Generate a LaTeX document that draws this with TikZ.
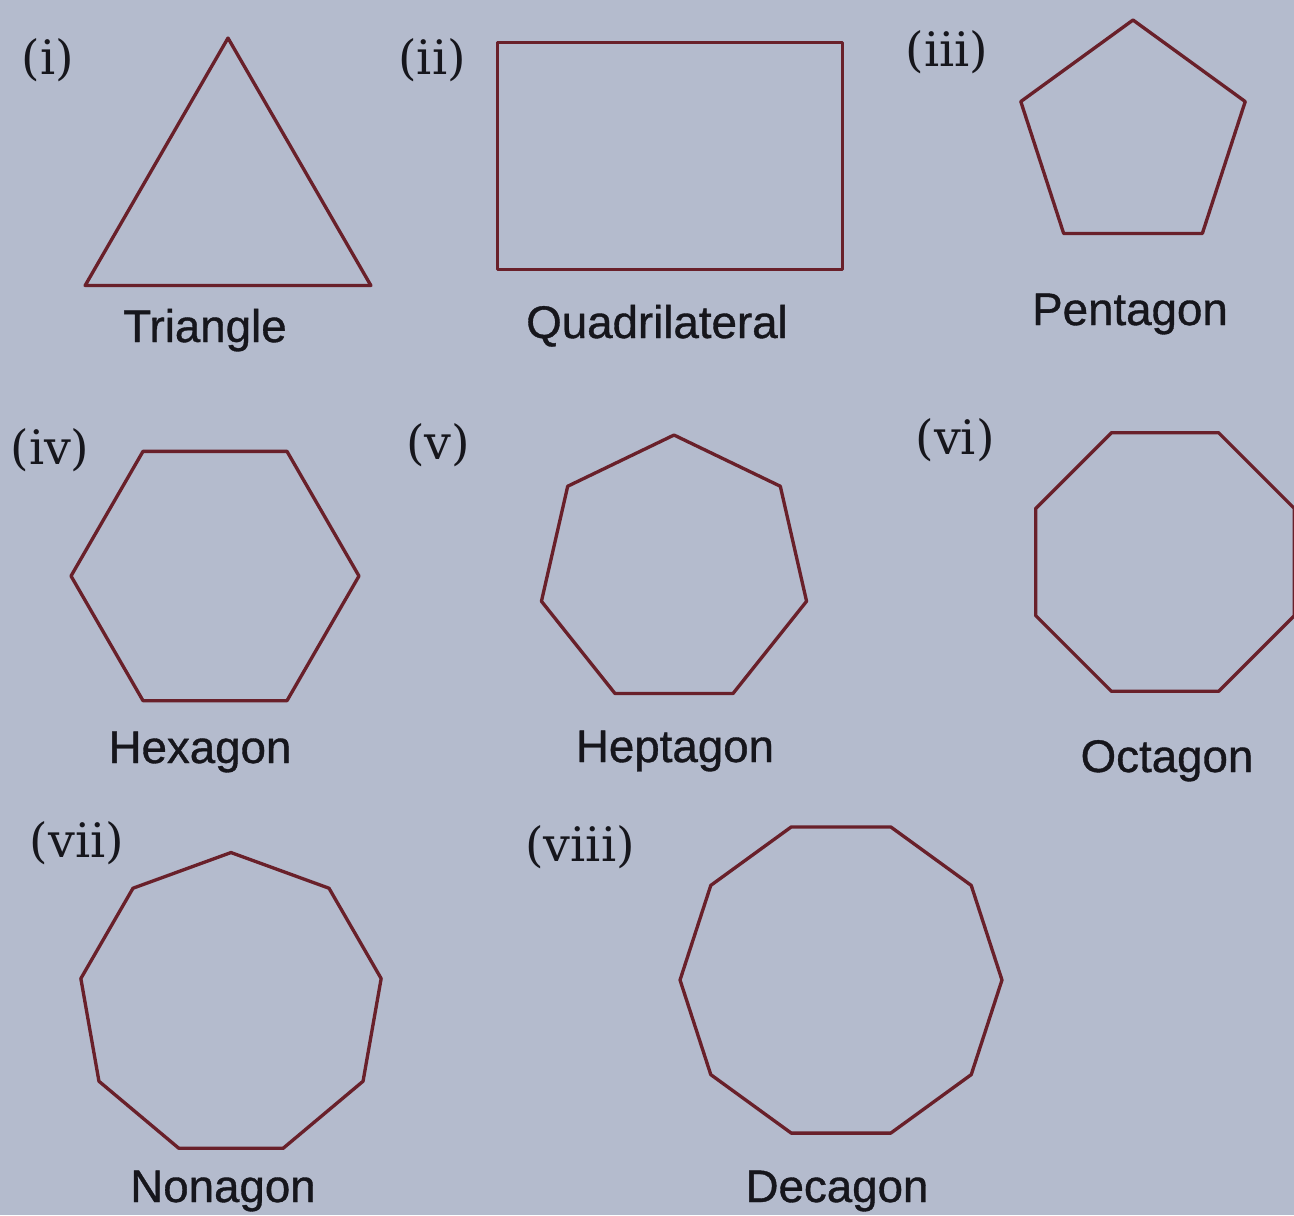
\documentclass[tikz,border=0pt]{standalone}
\usepackage{fontspec}
\newfontfamily\labelfont[FakeBold=0.8]{Liberation Sans}
\newfontfamily\numfont{DejaVu Serif}
\usetikzlibrary{shapes.geometric}

\definecolor{paper}{RGB}{180,187,205}
\definecolor{ink}{RGB}{105,32,42}
\definecolor{type}{RGB}{22,22,28}

\begin{document}
\begin{tikzpicture}
  [
    x=0.02cm, y=-0.02cm,
    poly/.style = {draw=ink, line width=1.9pt, line join=round, inner sep=0pt, outer sep=0pt},
    ngon/.style = {poly, regular polygon, regular polygon sides=#1},
    shapename/.style = {anchor=base, text=type, inner sep=0pt, font=\labelfont\fontsize{26}{30}\selectfont},
    roman/.style = {text=type, inner sep=0pt, font=\numfont\fontsize{27}{32}\selectfont},
  ]

  % the page
  \useasboundingbox (0,0) rectangle (1294,1215);
  \clip (0,0) rectangle (1294,1215);
  \fill[paper] (0,0) rectangle (1294,1215);

  % Polygon #1 (triangle)
  \node (tri) at (228,203) [ngon=3, minimum size=6.6cm] {};
  \node (trinum) at (48,60) [roman] {(i)};
  \node (triname) at (205,342) [shapename] {Triangle};

  % Polygon #2 (quadrilateral)
  \node (quad) at (670,156) [poly, rectangle, minimum width=6.9cm, minimum height=4.54cm] {};
  \node (quadnum) at (432,60) [roman] {(ii)};
  \node (quadname) at (657,338) [shapename] {Quadrilateral};

  % Polygon #3 (pentagon)
  \node (pent) at (1133,138) [ngon=5, minimum size=4.72cm] {};
  \node (pentnum) at (947,52) [roman] {(iii)};
  \node (pentname) at (1130,325) [shapename] {Pentagon};

  % Polygon #4 (hexagon)
  \node (hex) at (215,576) [ngon=6, minimum size=5.76cm] {};
  \node (hexnum) at (50,450) [roman] {(iv)};
  \node (hexname) at (200,763) [shapename] {Hexagon};

  % Polygon #5 (heptagon)
  \node (hept) at (674,571) [ngon=7, minimum size=5.44cm] {};
  \node (heptnum) at (438,445) [roman] {(v)};
  \node (heptname) at (675,762) [shapename] {Heptagon};

  % Polygon #6 (octagon, runs off the page)
  \node (oct) at (1165,562) [ngon=8, minimum size=5.6cm] {};
  \node (octnum) at (955,440) [roman] {(vi)};
  \node (octname) at (1167,772) [shapename] {Octagon};

  % Polygon #7 (nonagon)
  \node (non) at (231,1005) [ngon=9, minimum size=6.1cm] {};
  \node (nonnum) at (77,843) [roman] {(vii)};
  \node (nonname) at (223,1202) [shapename] {Nonagon};

  % Polygon #8 (decagon)
  \node (dec) at (841,980) [ngon=10, minimum size=6.44cm] {};
  \node (decnum) at (580,847) [roman] {(viii)};
  \node (decname) at (837,1202) [shapename] {Decagon};
\end{tikzpicture}
\end{document}
